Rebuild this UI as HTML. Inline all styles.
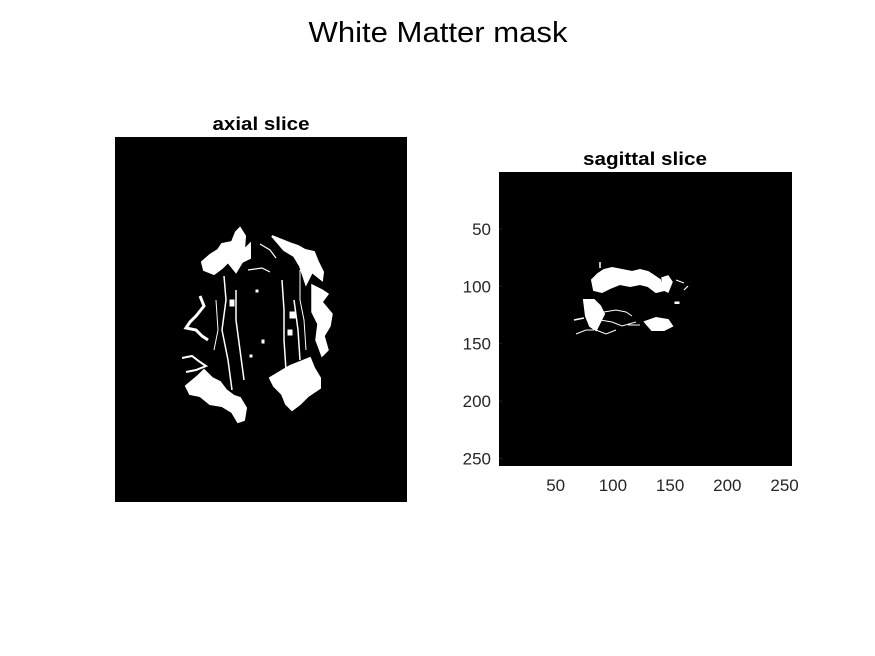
<!DOCTYPE html>
<html><head><meta charset="utf-8"><style>
html,body{margin:0;padding:0;background:#fff;}
svg{display:block;font-family:"Liberation Sans",Arial,sans-serif;}
</style></head><body>
<svg width="875" height="656" viewBox="0 0 875 656">
<rect width="875" height="656" fill="#fff"/>
<text x="438" y="42" font-size="29" textLength="259" lengthAdjust="spacingAndGlyphs" text-anchor="middle" fill="#000">White Matter mask</text>

<g>
<text x="261" y="130" font-size="18" font-weight="bold" textLength="97" lengthAdjust="spacingAndGlyphs" text-anchor="middle">axial slice</text>
<rect x="115" y="137" width="292" height="365" fill="#000"/>
<g fill="#fff" stroke="#fff" stroke-linejoin="miter">
<polygon points="210,255 218,250 222,244 232,242 236,232 240,228 245,236 244,250 250,244 250,258 242,262 236,272 228,262 222,268 214,274 204,270 202,262" stroke-width="2"/>
<polygon points="272,236 282,240 292,244 298,246 305,250 314,252 318,262 323,272 322,280 312,272 306,284 300,266 294,256 284,250" stroke-width="2"/>
<polygon points="312,285 322,290 328,294 322,302 332,314 330,326 324,336 328,350 322,356 316,340 318,324 312,312" stroke-width="1.5"/>
<polygon points="186,386 198,376 204,370 212,378 220,382 226,390 234,396 240,398 246,408 244,420 238,422 232,412 222,406 210,404 200,396 190,394" stroke-width="2"/>
<polygon points="270,378 280,372 290,366 300,362 310,358 314,368 320,378 320,388 308,396 300,404 292,410 286,404 282,394 274,386" stroke-width="2"/>
<polyline points="200,296 204,306 196,316 190,322 186,328 196,330 202,336 208,340" fill="none" stroke-width="3"/>
<polyline points="182,358 192,356 200,362 206,366 196,370 186,372" fill="none" stroke-width="2"/>
<polyline points="224,276 226,300 222,330 228,360 232,390" fill="none" stroke-width="1.5"/>
<polyline points="236,290 236,320 240,350 244,380" fill="none" stroke-width="1.5"/>
<polyline points="282,280 284,310 284,340 286,370" fill="none" stroke-width="1.5"/>
<polyline points="294,300 298,330 300,360" fill="none" stroke-width="1.5"/>
<polyline points="260,244 270,250 276,258" fill="none" stroke-width="1.2"/>
<polyline points="248,270 262,268 270,272" fill="none" stroke-width="1.2"/>
<polyline points="300,270 300,300 304,320 306,350" fill="none" stroke-width="1"/>
<polyline points="216,300 218,330 214,350" fill="none" stroke-width="1"/>
<rect x="256" y="290" width="2" height="2"/><rect x="262" y="340" width="2" height="3"/><rect x="250" y="355" width="2" height="2"/>
<rect x="230" y="300" width="4" height="6"/><rect x="290" y="312" width="5" height="6"/><rect x="288" y="330" width="4" height="5"/>
</g>
</g>

<g>
<text x="645" y="165" font-size="18" font-weight="bold" textLength="124" lengthAdjust="spacingAndGlyphs" text-anchor="middle">sagittal slice</text>
<rect x="499" y="172" width="293" height="294" fill="#000"/>
<g fill="#fff" stroke="#fff">
<polygon points="592,280 598,274 604,270 612,268 622,270 632,272 640,270 648,272 654,276 660,280 664,290 656,292 648,286 640,284 630,286 620,284 610,288 602,292 594,290" stroke-width="2"/>
<polygon points="662,278 668,276 672,282 668,292 664,290" stroke-width="1.5"/>
<polygon points="584,300 594,300 600,306 604,314 600,322 596,330 590,326 586,316" stroke-width="2"/>
<polygon points="645,322 656,318 668,320 672,326 664,330 652,330" stroke-width="2"/>
<polyline points="600,268 600,262" fill="none" stroke-width="1.5"/>
<polyline points="604,312 616,310 626,312 632,316" fill="none" stroke-width="1"/>
<polyline points="600,320 612,322 622,326 636,322" fill="none" stroke-width="1"/>
<polyline points="596,330 606,334 616,330" fill="none" stroke-width="1"/>
<polyline points="574,320 584,318" fill="none" stroke-width="1.5"/>
<polyline points="576,334 586,330 594,330" fill="none" stroke-width="1"/>
<polyline points="628,325 640,325" fill="none" stroke-width="1"/>
<polyline points="676,280 684,283" fill="none" stroke-width="1.2"/>
<polyline points="684,290 688,286" fill="none" stroke-width="1.2"/>
<rect x="675" y="302" width="4" height="1.5"/>
</g>
<g id="ticks" font-size="17" fill="#262626"></g>
</g>
</svg>
<script>
const yTicks=[50,100,150,200,250];
const xTicks=[50,100,150,200,250];
const x0=499,y0=172,w=293,h=294,n=256;
const sx=v=>x0+(v-0.5)/n*w, sy=v=>y0+(v-0.5)/n*h;
const g=document.getElementById('ticks');
const NS='http://www.w3.org/2000/svg';
yTicks.forEach(v=>{
 const t=document.createElementNS(NS,'text');
 t.setAttribute('x',x0-8);t.setAttribute('y',sy(v)+6);t.setAttribute('text-anchor','end');
 t.textContent=v;
 
 
 g.appendChild(t);
 const l=document.createElementNS(NS,'line');
 l.setAttribute('x1',x0);l.setAttribute('x2',x0+3);l.setAttribute('y1',sy(v));l.setAttribute('y2',sy(v));l.setAttribute('stroke','#262626');
 
 
 g.appendChild(l);
});
xTicks.forEach(v=>{
 const t=document.createElementNS(NS,'text');
 t.setAttribute('x',sx(v));t.setAttribute('y',y0+h+25);t.setAttribute('text-anchor','middle');
 t.textContent=v;
 
 
 g.appendChild(t);
});
</script>
</body></html>
